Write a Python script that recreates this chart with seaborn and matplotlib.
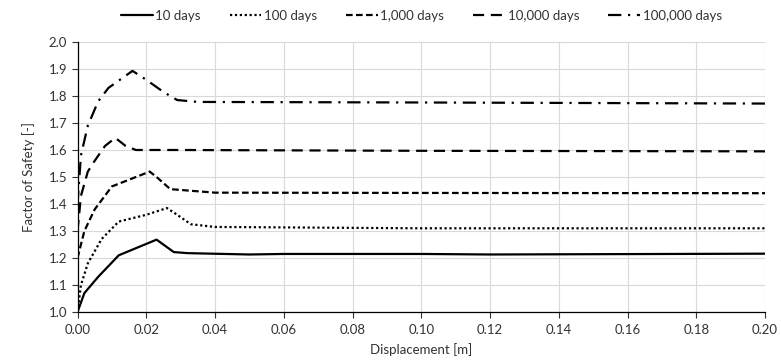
import matplotlib
matplotlib.use("Agg")
import matplotlib.pyplot as plt
import seaborn as sns
import pandas as pd

labels = ["10 days", "100 days", "1,000 days", "10,000 days", "100,000 days"]

x_10 = [0.0, 0.002, 0.006, 0.012, 0.023, 0.028, 0.032, 0.05, 0.06, 0.10, 0.12, 0.20]
y_10 = [1.0, 1.07, 1.13, 1.21, 1.268, 1.222, 1.218, 1.213, 1.215, 1.215, 1.213, 1.216]

x_100 = [0.0, 0.001, 0.003, 0.007, 0.012, 0.020, 0.026, 0.029, 0.033, 0.040, 0.10, 0.20]
y_100 = [1.0, 1.10, 1.18, 1.27, 1.335, 1.36, 1.385, 1.36, 1.325, 1.315, 1.31, 1.31]

x_1000 = [0.0, 0.002, 0.005, 0.010, 0.015, 0.021, 0.023, 0.027, 0.040, 0.10, 0.20]
y_1000 = [1.20, 1.30, 1.38, 1.465, 1.49, 1.52, 1.50, 1.455, 1.442, 1.441, 1.44]

x_10000 = [0.0, 0.001, 0.003, 0.005, 0.008, 0.011, 0.014, 0.017, 0.030, 0.10, 0.20]
y_10000 = [1.30, 1.43, 1.52, 1.56, 1.615, 1.645, 1.615, 1.60, 1.60, 1.597, 1.595]

x_100000 = [0.0, 0.001, 0.003, 0.006, 0.009, 0.016, 0.020, 0.025, 0.029, 0.035, 0.10, 0.20]
y_100000 = [1.40, 1.58, 1.69, 1.78, 1.83, 1.893, 1.86, 1.815, 1.785, 1.778, 1.776, 1.772]

series = [(x_10, y_10), (x_100, y_100), (x_1000, y_1000), (x_10000, y_10000), (x_100000, y_100000)]
styles = ["-", (0, (1, 1.2)), (0, (3, 1.5)), (0, (5, 3)), (0, (6, 3, 1, 3))]

x_ticks = [0.00, 0.02, 0.04, 0.06, 0.08, 0.10, 0.12, 0.14, 0.16, 0.18, 0.20]
y_ticks = [1.0, 1.1, 1.2, 1.3, 1.4, 1.5, 1.6, 1.7, 1.8, 1.9, 2.0]

sns.set_theme(style="white")
plt.rcParams['font.family'] = ['Lato', 'DejaVu Sans']

fig = plt.figure(figsize=(7.81, 3.63), dpi=100)
ax = fig.add_axes([77.5 / 781, 1 - 312 / 363, (765 - 77.5) / 781, (312 - 42) / 363])

for (xs, ys), lab, ls in zip(series, labels, styles):
    df = pd.DataFrame({"x": xs, "y": ys})
    sns.lineplot(data=df, x="x", y="y", ax=ax, color="black", linewidth=1.6,
                 linestyle=ls, label=lab, sort=False, estimator=None)

ax.set_xlim(0, 0.20)
ax.set_ylim(1.0, 2.0)
ax.set_xticks(x_ticks)
ax.set_yticks(y_ticks)
ax.set_xticklabels([f"{v:.2f}" for v in x_ticks])
ax.set_yticklabels([f"{v:.1f}" for v in y_ticks])
ax.grid(True, color="#d9d9d9", linewidth=0.8)
ax.set_axisbelow(True)
for s in ["top", "right"]:
    ax.spines[s].set_visible(False)
for s in ["left", "bottom"]:
    ax.spines[s].set_color("black")
    ax.spines[s].set_linewidth(0.9)
ax.tick_params(axis="both", which="major", labelsize=9.5, colors="#333333",
               length=4, width=0.8, direction="out", bottom=True, left=True)
ax.tick_params(axis="x", pad=5)
ax.set_xlabel("Displacement [m]", fontsize=9.5, color="#333333", labelpad=5)
ax.set_ylabel("Factor of Safety [-]", fontsize=9.5, color="#333333", labelpad=10)

ax.legend(loc="center", bbox_to_anchor=(0.5, 1 + 26 / 270), ncol=5, frameon=False,
          fontsize=9.5, handlelength=2.4, columnspacing=2.2, handletextpad=0.2,
          labelcolor="#333333")

fig.savefig("out.png", dpi=100)
